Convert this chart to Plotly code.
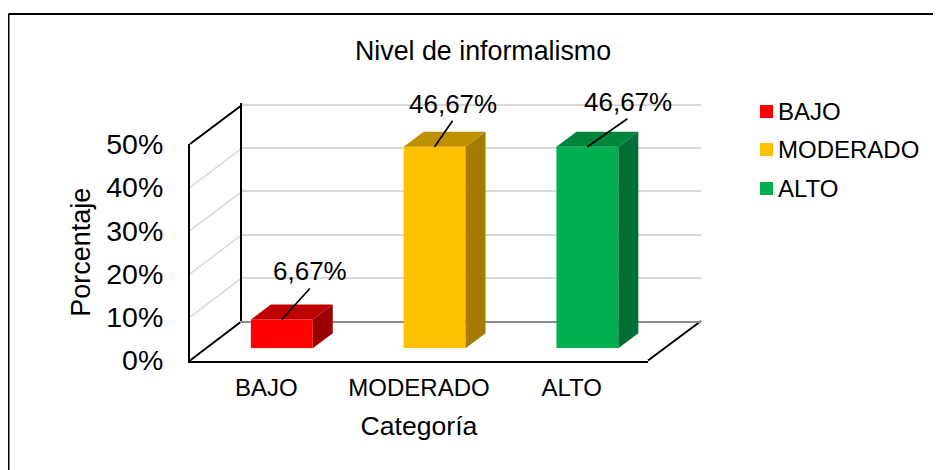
import plotly.graph_objects as go

# Datos
categorias = ["BAJO", "MODERADO", "ALTO"]
valores = [6.67, 46.67, 46.67]
etiquetas = ["6,67%", "46,67%", "46,67%"]
y_ticks = [0, 10, 20, 30, 40, 50]
y_labels = ["0%", "10%", "20%", "30%", "40%", "50%"]

colores = ["#FF0000", "#FFC000", "#00B050"]
colores_techo = ["#BF0000", "#BF9000", "#00843C"]
colores_lado = ["#990000", "#A67C00", "#006F35"]
# desplazamiento de cada etiqueta y de su linea guia respecto al techo de la barra (px)
offset_etiquetas = [(28, -48), (18, -43), (41, -45)]
offset_guias = [(28, -31), (18, -26), (40, -28)]

# la pagina deja 8px de margen, las coordenadas de abajo son de la imagen completa
OFF = 8
W, H = 941, 470
FONT = "Liberation Sans, Arial, sans-serif"
ESCALA_Y = 4.32  # px por punto porcentual
ANCHO_CAT = 152.8
ANCHO_BARRA = 0.405
PROF_X = 20 / ANCHO_CAT
PROF_Y = 15 / ESCALA_Y


def fx(px):
    return (px - OFF) / W


def fy(py):
    return 1 - (py - OFF) / H


fig = go.Figure()

# pared del fondo (solo rejilla)
fig.add_trace(go.Scatter(x=[0], y=[0], mode="none", showlegend=False, hoverinfo="skip",
                         xaxis="x", yaxis="y"))
# eje frontal con las etiquetas
fig.add_trace(go.Scatter(x=[0], y=[0], mode="none", showlegend=False, hoverinfo="skip",
                         xaxis="x2", yaxis="y2"))

# barras y sus caras laterales
posiciones = list(range(len(categorias)))
fig.add_trace(go.Bar(x=posiciones, y=valores, width=ANCHO_BARRA, marker=dict(color=colores, line_width=0),
                     showlegend=False, xaxis="x3", yaxis="y3"))
for i, v in enumerate(valores):
    x0 = i - ANCHO_BARRA / 2
    x1 = i + ANCHO_BARRA / 2
    fig.add_trace(go.Scatter(x=[x0, x0 + PROF_X, x1 + PROF_X, x1, x0],
                             y=[v, v + PROF_Y, v + PROF_Y, v, v],
                             fill="toself", fillcolor=colores_techo[i], mode="none",
                             showlegend=False, xaxis="x3", yaxis="y3"))
    fig.add_trace(go.Scatter(x=[x1, x1 + PROF_X, x1 + PROF_X, x1, x1],
                             y=[0, PROF_Y, v + PROF_Y, v, 0],
                             fill="toself", fillcolor=colores_lado[i], mode="none",
                             showlegend=False, xaxis="x3", yaxis="y3"))
    # linea guia de la etiqueta
    dx, dy = offset_guias[i]
    fig.add_trace(go.Scatter(x=[i, i + dx / ANCHO_CAT], y=[v, v - dy / ESCALA_Y], mode="lines",
                             line=dict(color="black", width=1.75), showlegend=False,
                             hoverinfo="skip", xaxis="x3", yaxis="y3"))

shapes = []
# rejilla de la pared lateral
for t in y_ticks:
    py_front = 360.5 - t * 4.33
    py_back = 321 - t * ESCALA_Y
    if t == 0 or t == 50:
        color, ancho = "black", 2
    else:
        color, ancho = "#D9D9D9", 1.5
    shapes.append(dict(type="line", xref="paper", yref="paper", layer="below",
                       x0=fx(190), y0=fy(py_front), x1=fx(242), y1=fy(py_back),
                       line=dict(color=color, width=ancho)))
# borde derecho del suelo
shapes.append(dict(type="line", xref="paper", yref="paper", x0=fx(648), y0=fy(360.5),
                   x1=fx(701), y1=fy(321), line=dict(color="black", width=2), layer="below"))
# marco de la imagen
shapes.append(dict(type="line", xref="paper", yref="paper", x0=fx(8.5), y0=fy(14), x1=1, y1=fy(14),
                   line=dict(color="black", width=2)))
shapes.append(dict(type="line", xref="paper", yref="paper", x0=fx(8.5), y0=fy(14), x1=fx(8.5), y1=0,
                   line=dict(color="black", width=2)))

annotations = []
# etiquetas de datos
for i, v in enumerate(valores):
    annotations.append(dict(x=i, y=v, xref="x3", yref="y3", text=etiquetas[i], showarrow=False,
                            xanchor="center", yanchor="middle",
                            xshift=offset_etiquetas[i][0], yshift=-offset_etiquetas[i][1],
                            font=dict(size=26, color="black", family=FONT)))

# leyenda
leyenda_y = [111.5, 149.5, 188.5]
for nombre, color, py in zip(categorias, colores, leyenda_y):
    shapes.append(dict(type="rect", xref="paper", yref="paper", x0=fx(760), x1=fx(773),
                       y0=fy(py + 6.5), y1=fy(py - 6.5), fillcolor=color, line_width=0))
    annotations.append(dict(x=fx(776), y=fy(py), xref="paper", yref="paper", text=nombre, showarrow=False,
                            xanchor="left", yanchor="middle", font=dict(size=24, color="black", family=FONT)))

fig.update_layout(
    width=W, height=H,
    margin=dict(l=0, r=0, t=0, b=0, autoexpand=False),
    paper_bgcolor="white", plot_bgcolor="rgba(0,0,0,0)",
    showlegend=False,
    font=dict(family=FONT, color="black"),
    title=dict(text="Nivel de informalismo", x=fx(483), xanchor="center", y=fy(51), yanchor="middle",
               font=dict(size=26.8, color="black", family=FONT)),
    xaxis=dict(domain=[fx(242), fx(701)], range=[0, 1], showticklabels=False, showgrid=False, zeroline=False,
               showline=True, linecolor="#8C8C8C", linewidth=2, automargin=False),
    yaxis=dict(domain=[fy(321), fy(321 - 50.5 * ESCALA_Y)], range=[0, 50.5], tickvals=y_ticks,
               showticklabels=False, showgrid=True, gridcolor="#D9D9D9", gridwidth=2, zeroline=False,
               showline=True, linecolor="black", linewidth=1.5, automargin=False),
    xaxis2=dict(domain=[fx(190), fx(648)], range=[-0.5, 2.5], tickvals=posiciones, ticktext=categorias,
                tickfont=dict(size=24, color="black"), ticks="outside", ticklen=5, tickcolor="rgba(0,0,0,0)",
                showgrid=False, zeroline=False,
                showline=True, linecolor="black", linewidth=2, anchor="y2", automargin=False,
                title=dict(text="Categoría", font=dict(size=26.6, color="black"), standoff=16)),
    yaxis2=dict(domain=[fy(360.5), fy(144)], range=[0, 50], tickvals=y_ticks, ticktext=y_labels,
                tickfont=dict(size=28.5, color="black"), ticks="outside", ticklen=19, tickcolor="rgba(0,0,0,0)",
                showgrid=False, zeroline=False, automargin=False,
                showline=True, linecolor="black", linewidth=2, anchor="x2",
                title=dict(text="Porcentaje", font=dict(size=27, color="black"), standoff=8)),
    xaxis3=dict(domain=[fx(205.4), fx(663.8)], range=[-0.5, 2.5], visible=False, anchor="y3", automargin=False),
    yaxis3=dict(domain=[fy(348.3), fy(348.3 - 55 * ESCALA_Y)], range=[0, 55], visible=False, anchor="x3",
                automargin=False),
    shapes=shapes,
    annotations=annotations,
)

fig.write_html("out.html")
